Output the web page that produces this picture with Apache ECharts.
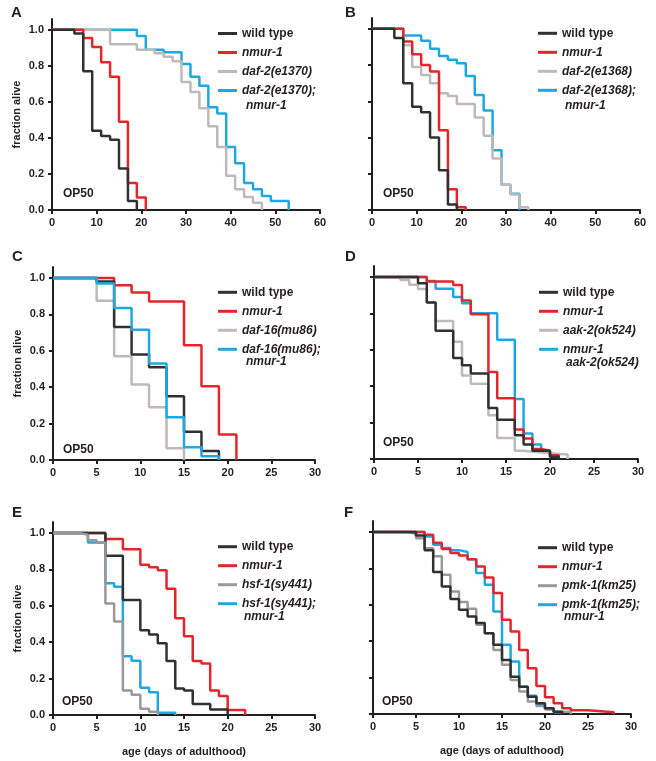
<!DOCTYPE html>
<html>
<head>
<meta charset="utf-8">
<script src="https://cdn.jsdelivr.net/npm/echarts@6/dist/echarts.min.js"></script>
<style>
  html, body { margin: 0; padding: 0; background: #fff; }
  #chart { width: 656px; height: 761px; }
</style>
</head>
<body>
<div id="chart"></div>
<script>
// Survival curves, [day, fraction alive]

// A
const aWild = [[0,1],[5,0.98],[7,0.77],[9,0.44],[11,0.41],[13,0.39],[15,0.23],[17,0.05],[19,0]];
const aNmur = [[0,1],[7,0.955],[9,0.905],[11,0.82],[13,0.74],[15,0.49],[17,0.15],[19,0.07],[21,0]];
const aDaf2 = [[0,1],[13,0.92],[19,0.89],[23,0.87],[25,0.85],[27,0.825],[29,0.71],[31,0.655],[33,0.565],[35,0.465],[37,0.35],[39,0.19],[41,0.115],[43,0.072],[45,0.04],[47,0]];
const aDouble = [[0,1],[19,0.966],[21,0.89],[25,0.875],[29,0.81],[31,0.74],[33,0.69],[35,0.57],[37,0.536],[39,0.35],[41,0.26],[43,0.15],[45,0.115],[47,0.078],[49,0.05],[53,0]];

// B
const bWild = [[0,1],[5,0.95],[7,0.70],[9,0.57],[11,0.54],[13,0.40],[15,0.22],[17,0.03],[19,0]];
const bNmur = [[0,1],[7,0.93],[9,0.86],[11,0.80],[13,0.765],[15,0.44],[17,0.115],[19,0.015],[21,0]];
const bDaf2 = [[0,1],[7,0.91],[9,0.79],[11,0.745],[13,0.70],[15,0.645],[17,0.63],[19,0.585],[23,0.51],[25,0.41],[27,0.285],[29,0.14],[31,0.085],[33,0.015],[35,0]];
const bDouble = [[0,1],[7,0.963],[11,0.935],[13,0.89],[15,0.85],[17,0.83],[19,0.81],[21,0.74],[23,0.635],[25,0.55],[27,0.33],[29,0.14],[31,0.09],[33,0]];

// C
const cWild = [[0,1],[5,0.98],[7,0.73],[9,0.58],[11,0.51],[13,0.35],[15,0.155],[17,0.05],[19,0]];
const cNmur = [[0,1],[7,0.96],[9,0.92],[11,0.87],[15,0.63],[17,0.405],[19,0.14],[21,0]];
const cDaf16 = [[0,1],[5,0.875],[7,0.57],[9,0.415],[11,0.29],[13,0.065],[15,0]];
const cDouble = [[0,1],[5,0.97],[7,0.835],[9,0.715],[11,0.53],[13,0.235],[15,0.07],[17,0.02],[19,0]];

// D
const dWild = [[0,1],[5,0.965],[6,0.86],[7,0.705],[9,0.555],[10,0.515],[11,0.47],[13,0.28],[14,0.215],[16,0.13],[17,0.08],[18,0.045],[20,0.013],[21,0]];
const dNmur = [[0,1],[6,0.975],[9,0.955],[10,0.87],[11,0.795],[13,0.478],[14,0.333],[16,0.162],[17,0.112],[18,0.055],[19,0.045],[20,0.02],[21,0]];
const dAak2 = [[0,1],[3,0.983],[4,0.957],[5,0.933],[6,0.86],[7,0.758],[9,0.644],[10,0.458],[11,0.413],[13,0.24],[14,0.115],[16,0.045],[17,0.035],[19,0.025],[22,0]];
const dDouble = [[0,1],[6,0.978],[7,0.935],[9,0.89],[10,0.856],[11,0.80],[14,0.655],[16,0.33],[17,0.14],[18,0.08],[19,0.04],[20,0.015],[21,0]];

// E
const eWild = [[0,1],[6,0.874],[8,0.631],[10,0.465],[11,0.442],[12,0.394],[13,0.296],[14,0.146],[15,0.134],[16,0.06],[18,0.03],[20,0]];
const eNmur = [[0,1],[6,0.966],[8,0.91],[10,0.825],[11,0.811],[12,0.795],[13,0.693],[14,0.532],[15,0.433],[16,0.296],[17,0.283],[18,0.135],[19,0.105],[20,0.028],[22,0]];
const eHsf1 = [[0,1],[3,0.99],[4,0.96],[5,0.948],[6,0.612],[7,0.513],[8,0.135],[9,0.111],[10,0.035],[11,0.018],[12,0]];
const eDouble = [[0,1],[4,0.948],[6,0.723],[7,0.704],[8,0.323],[9,0.298],[10,0.15],[11,0.125],[12,0.012],[14,0]];

// F
const fWild = [[0,1],[5,0.98],[6,0.90],[7,0.78],[8,0.70],[9,0.632],[10,0.572],[11,0.535],[12,0.50],[13,0.444],[14,0.38],[15,0.297],[16,0.205],[17,0.15],[18,0.095],[19,0.059],[20,0.031],[21,0.013],[22,0]];
const fNmur = [[0,1],[6,0.985],[7,0.94],[8,0.906],[9,0.884],[10,0.87],[11,0.85],[12,0.81],[13,0.75],[14,0.665],[15,0.517],[16,0.453],[17,0.352],[18,0.251],[19,0.154],[20,0.092],[21,0.059],[22,0.031],[23,0.02],[25,0.01],[28,0]];
const fPmk1 = [[0,1],[4,0.99],[5,0.965],[6,0.91],[7,0.866],[8,0.765],[9,0.673],[10,0.615],[11,0.578],[12,0.49],[13,0.444],[14,0.352],[15,0.27],[16,0.187],[17,0.123],[18,0.068],[19,0.044],[20,0.025],[21,0.012],[23,0]];
const fDouble = [[0,1],[6,0.975],[7,0.93],[8,0.912],[9,0.90],[10,0.89],[11,0.85],[12,0.774],[13,0.71],[14,0.563],[15,0.38],[16,0.288],[17,0.15],[18,0.10],[19,0.05],[20,0.03],[21,0.01],[22,0]];

const yTicks = [0, 0.2, 0.4, 0.6, 0.8, 1.0];

const FONT = '"Liberation Sans", Arial, Helvetica, sans-serif';
const INK = '#231f20';
const cWildCol = '#323132';
const cRed = '#e3262b';
const cLight = '#bfb9b7';
const cMid = '#9c9897';
const cBlue = '#1fa8e0';

// legend shows the first line, the second line is added as a text below
const legendLines = {
  'daf-2(e1370); nmur-1': ['daf-2(e1370);', 'nmur-1'],
  'daf-2(e1368); nmur-1': ['daf-2(e1368);', 'nmur-1'],
  'daf-16(mu86); nmur-1': ['daf-16(mu86);', 'nmur-1'],
  'nmur-1 aak-2(ok524)': ['nmur-1', 'aak-2(ok524)'],
  'hsf-1(sy441); nmur-1': ['hsf-1(sy441);', 'nmur-1'],
  'pmk-1(km25); nmur-1': ['pmk-1(km25);', 'nmur-1']
};

const panels = [
  { letter: 'A', grid: { left: 52, top: 19, width: 268, height: 191 }, xMax: 60, xStep: 10, yLab: true, xName: false,
    series: [['wild type', aWild, cWildCol], ['nmur-1', aNmur, cRed], ['daf-2(e1370)', aDaf2, cLight], ['daf-2(e1370); nmur-1', aDouble, cBlue]],
    legend: [218, 26.5], second: [246, 106], letterAt: [11, 13], op50: [63, 194], top: 0 },
  { letter: 'B', grid: { left: 372, top: 18, width: 268, height: 192 }, xMax: 60, xStep: 10, yLab: false, xName: false,
    series: [['wild type', bWild, cWildCol], ['nmur-1', bNmur, cRed], ['daf-2(e1368)', bDaf2, cLight], ['daf-2(e1368); nmur-1', bDouble, cBlue]],
    legend: [538, 26.3], second: [565, 106], letterAt: [345, 13], op50: [383, 194], top: 0 },
  { letter: 'C', grid: { left: 53, top: 267, width: 262, height: 193 }, xMax: 30, xStep: 5, yLab: true, xName: false,
    series: [['wild type', cWild, cWildCol], ['nmur-1', cNmur, cRed], ['daf-16(mu86)', cDaf16, cLight], ['daf-16(mu86); nmur-1', cDouble, cBlue]],
    legend: [218, 285.3], second: [246, 362], letterAt: [12, 257], op50: [63, 450], top: 3 },
  { letter: 'D', grid: { left: 374, top: 266, width: 264, height: 193 }, xMax: 30, xStep: 5, yLab: false, xName: false,
    series: [['wild type', dWild, cWildCol], ['nmur-1', dNmur, cRed], ['aak-2(ok524)', dAak2, cLight], ['nmur-1 aak-2(ok524)', dDouble, cBlue]],
    legend: [539, 285.3], second: [566, 363], letterAt: [345, 257], op50: [383, 443], top: 0 },
  { letter: 'E', grid: { left: 53, top: 522, width: 262, height: 193 }, xMax: 30, xStep: 5, yLab: true, xName: true,
    series: [['wild type', eWild, cWildCol], ['nmur-1', eNmur, cRed], ['hsf-1(sy441)', eHsf1, cMid], ['hsf-1(sy441); nmur-1', eDouble, cBlue]],
    legend: [218, 539.7], second: [244, 617], letterAt: [12, 513], op50: [62, 702], top: 2 },
  { letter: 'F', grid: { left: 373, top: 521, width: 258, height: 193 }, xMax: 30, xStep: 5, yLab: false, xName: true,
    series: [['wild type', fWild, cWildCol], ['nmur-1', fNmur, cRed], ['pmk-1(km25)', fPmk1, cMid], ['pmk-1(km25); nmur-1', fDouble, cBlue]],
    legend: [538, 540.7], second: [564, 617], letterAt: [344, 513], op50: [382, 702], top: 0 }
];

const labelStyle = { color: INK, fontFamily: FONT, fontWeight: 'bold', fontSize: 11 };

function txt(text, x, y, size, italic) {
  return {
    type: 'text', x: x, y: y, silent: true,
    style: {
      text: text, fill: INK,
      font: (italic ? 'italic ' : '') + 'bold ' + size + 'px ' + FONT,
      verticalAlign: 'middle', textVerticalAlign: 'middle'
    }
  };
}

const grids = [], xAxes = [], yAxes = [], series = [], legends = [], graphics = [];

panels.forEach(function (p, i) {
  grids.push(Object.assign({ outerBoundsMode: 'none' }, p.grid));

  xAxes.push({
    gridIndex: i, type: 'value', min: 0, max: p.xMax, interval: p.xStep,
    name: p.xName ? 'age (days of adulthood)' : '',
    nameLocation: 'middle', nameGap: 31, nameMoveOverlap: false,
    nameTextStyle: labelStyle,
    axisLine: { show: true, onZero: false, lineStyle: { color: INK, width: 2 } },
    axisTick: { show: true, length: 4, lineStyle: { color: INK, width: 2 } },
    axisLabel: Object.assign({ margin: 7 }, labelStyle),
    splitLine: { show: false }
  });

  yAxes.push({
    gridIndex: i, type: 'value', min: 0, max: 1.06,
    name: p.yLab ? 'fraction alive' : '',
    nameLocation: 'middle', nameGap: 30, nameRotate: 90, nameMoveOverlap: false,
    nameTextStyle: labelStyle,
    axisLine: { show: true, onZero: false, lineStyle: { color: INK, width: 2 } },
    axisTick: { show: true, length: 4, customValues: yTicks, lineStyle: { color: INK, width: 2 } },
    axisLabel: Object.assign({
      show: p.yLab, margin: 8, customValues: yTicks,
      formatter: function (v) { return v.toFixed(1); }
    }, labelStyle),
    splitLine: { show: false }
  });

  p.series.forEach(function (s, k) {
    series.push({
      name: s[0], type: 'line', step: 'end',
      xAxisIndex: i, yAxisIndex: i,
      data: s[1], symbol: 'none',
      z: k === p.top ? 6 : 2 + (3 - k) * 0.1,
      lineStyle: { color: s[2], width: 2.5 },
      itemStyle: { color: s[2] }
    });
  });

  legends.push({
    data: p.series.map(function (s) { return s[0]; }),
    orient: 'vertical', left: p.legend[0], top: p.legend[1],
    padding: 0, itemGap: 5, itemWidth: 19, itemHeight: 14,
    icon: 'path://M0,0H19V3H0Z', symbolKeepAspect: true,
    selectedMode: false,
    formatter: function (name) {
      const first = legendLines[name] ? legendLines[name][0] : name;
      return name === 'wild type' ? '{n|' + first + '}' : '{i|' + first + '}';
    },
    textStyle: {
      color: INK, fontFamily: FONT, fontSize: 12, fontWeight: 'bold', lineHeight: 14,
      rich: {
        n: { color: INK, fontFamily: FONT, fontSize: 12, fontWeight: 'bold', lineHeight: 14 },
        i: { color: INK, fontFamily: FONT, fontSize: 12, fontWeight: 'bold', fontStyle: 'italic', lineHeight: 14 }
      }
    }
  });

  const last = p.series[3][0];
  graphics.push(txt(legendLines[last][1], p.second[0], p.second[1], 12, true));
  graphics.push(txt(p.letter, p.letterAt[0], p.letterAt[1], 15, false));
  graphics.push(txt('OP50', p.op50[0], p.op50[1], 12, false));
});

const chart = echarts.init(document.getElementById('chart'), null, { renderer: 'canvas' });
chart.setOption({
  animation: false,
  backgroundColor: '#ffffff',
  textStyle: { fontFamily: FONT },
  grid: grids,
  xAxis: xAxes,
  yAxis: yAxes,
  legend: legends,
  series: series,
  graphic: { elements: graphics }
});
</script>
</body>
</html>
